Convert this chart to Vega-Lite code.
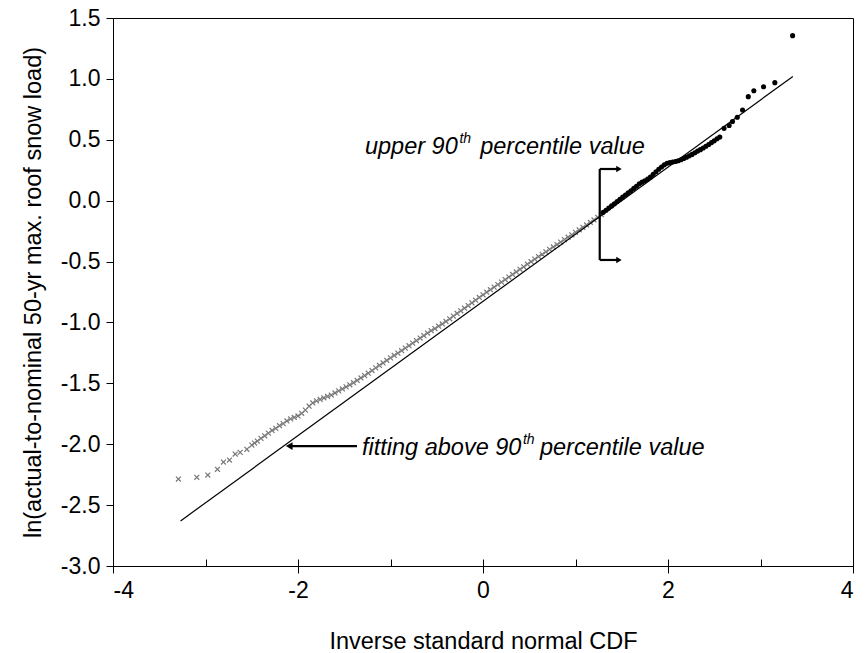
{
  "$schema": "https://vega.github.io/schema/vega-lite/v6.json",
  "width": 740,
  "height": 548,
  "autosize": "none",
  "padding": {"left": 113, "top": 18, "right": 15, "bottom": 87},
  "background": "white",
  "config": {
    "view": {"stroke": "black", "strokeWidth": 1},
    "font": "Liberation Sans",
    "axis": {
      "domainColor": "black",
      "tickColor": "black",
      "labelColor": "black",
      "titleColor": "black",
      "labelFont": "Liberation Sans",
      "titleFont": "Liberation Sans",
      "labelFontSize": 23,
      "titleFontSize": 23.5,
      "titleFontWeight": "normal"
    }
  },
  "datasets": {
    "grey": [
      {"q": -3.293, "v": -2.286}, {"q": -3.094, "v": -2.272}, {"q": -2.975, "v": -2.253}, {"q": -2.871, "v": -2.206},
      {"q": -2.806, "v": -2.146}, {"q": -2.741, "v": -2.130}, {"q": -2.679, "v": -2.081}, {"q": -2.625, "v": -2.067},
      {"q": -2.553, "v": -2.042}, {"q": -2.499, "v": -2.007}, {"q": -2.47, "v": -1.99},
      {"q": -2.44, "v": -1.974}, {"q": -2.40, "v": -1.952}, {"q": -2.36, "v": -1.931}, {"q": -2.32, "v": -1.909},
      {"q": -2.28, "v": -1.887}, {"q": -2.24, "v": -1.870}, {"q": -2.20, "v": -1.848}, {"q": -2.16, "v": -1.831},
      {"q": -2.12, "v": -1.809}, {"q": -2.08, "v": -1.792}, {"q": -2.04, "v": -1.780}, {"q": -2.00, "v": -1.768},
      {"q": -1.96, "v": -1.746}, {"q": -1.92, "v": -1.720}, {"q": -1.88, "v": -1.688}, {"q": -1.84, "v": -1.661},
      {"q": -1.80, "v": -1.644}, {"q": -1.76, "v": -1.632}, {"q": -1.72, "v": -1.620}, {"q": -1.68, "v": -1.608},
      {"q": -1.64, "v": -1.596}, {"q": -1.60, "v": -1.579}, {"q": -1.56, "v": -1.562}, {"q": -1.52, "v": -1.546},
      {"q": -1.48, "v": -1.529}, {"q": -1.44, "v": -1.512}, {"q": -1.40, "v": -1.495}, {"q": -1.36, "v": -1.476},
      {"q": -1.32, "v": -1.456}, {"q": -1.28, "v": -1.436}, {"q": -1.24, "v": -1.417}, {"q": -1.20, "v": -1.395},
      {"q": -1.16, "v": -1.373}, {"q": -1.12, "v": -1.353}, {"q": -1.08, "v": -1.333}, {"q": -1.04, "v": -1.312},
      {"q": -1.00, "v": -1.291}, {"q": -0.96, "v": -1.271}, {"q": -0.92, "v": -1.252}, {"q": -0.88, "v": -1.232},
      {"q": -0.84, "v": -1.211}, {"q": -0.80, "v": -1.191}, {"q": -0.76, "v": -1.170}, {"q": -0.72, "v": -1.149},
      {"q": -0.68, "v": -1.128}, {"q": -0.64, "v": -1.108}, {"q": -0.60, "v": -1.087}, {"q": -0.56, "v": -1.068},
      {"q": -0.52, "v": -1.050}, {"q": -0.48, "v": -1.031}, {"q": -0.44, "v": -1.012}, {"q": -0.40, "v": -0.992},
      {"q": -0.36, "v": -0.970}, {"q": -0.32, "v": -0.948}, {"q": -0.28, "v": -0.926}, {"q": -0.24, "v": -0.904},
      {"q": -0.20, "v": -0.883}, {"q": -0.16, "v": -0.861}, {"q": -0.12, "v": -0.839}, {"q": -0.08, "v": -0.817},
      {"q": -0.04, "v": -0.795}, {"q": 0.00, "v": -0.773}, {"q": 0.04, "v": -0.752}, {"q": 0.08, "v": -0.731},
      {"q": 0.12, "v": -0.710}, {"q": 0.16, "v": -0.689}, {"q": 0.20, "v": -0.669}, {"q": 0.24, "v": -0.648},
      {"q": 0.28, "v": -0.627}, {"q": 0.32, "v": -0.606}, {"q": 0.36, "v": -0.585}, {"q": 0.40, "v": -0.564},
      {"q": 0.44, "v": -0.543}, {"q": 0.48, "v": -0.522}, {"q": 0.52, "v": -0.501}, {"q": 0.56, "v": -0.480},
      {"q": 0.60, "v": -0.459}, {"q": 0.64, "v": -0.440}, {"q": 0.68, "v": -0.420}, {"q": 0.72, "v": -0.400},
      {"q": 0.76, "v": -0.380}, {"q": 0.80, "v": -0.360}, {"q": 0.84, "v": -0.340}, {"q": 0.88, "v": -0.320},
      {"q": 0.92, "v": -0.300}, {"q": 0.96, "v": -0.280}, {"q": 1.00, "v": -0.260}, {"q": 1.04, "v": -0.239},
      {"q": 1.08, "v": -0.219}, {"q": 1.12, "v": -0.199}, {"q": 1.16, "v": -0.178}, {"q": 1.20, "v": -0.158},
      {"q": 1.24, "v": -0.137}, {"q": 1.28, "v": -0.115}
    ],
    "black": [
      {"q": 1.30, "v": -0.096}, {"q": 1.33, "v": -0.079}, {"q": 1.36, "v": -0.061}, {"q": 1.39, "v": -0.043},
      {"q": 1.42, "v": -0.025}, {"q": 1.45, "v": -0.007}, {"q": 1.48, "v": 0.011}, {"q": 1.51, "v": 0.029},
      {"q": 1.54, "v": 0.046}, {"q": 1.57, "v": 0.064}, {"q": 1.60, "v": 0.082}, {"q": 1.63, "v": 0.101},
      {"q": 1.66, "v": 0.119}, {"q": 1.69, "v": 0.138}, {"q": 1.72, "v": 0.152}, {"q": 1.75, "v": 0.164},
      {"q": 1.78, "v": 0.177}, {"q": 1.81, "v": 0.193}, {"q": 1.84, "v": 0.216}, {"q": 1.87, "v": 0.238},
      {"q": 1.90, "v": 0.258}, {"q": 1.93, "v": 0.277}, {"q": 1.96, "v": 0.294}, {"q": 1.99, "v": 0.307},
      {"q": 2.02, "v": 0.314}, {"q": 2.05, "v": 0.318}, {"q": 2.08, "v": 0.322}, {"q": 2.11, "v": 0.328},
      {"q": 2.14, "v": 0.336}, {"q": 2.17, "v": 0.346}, {"q": 2.20, "v": 0.357}, {"q": 2.23, "v": 0.368},
      {"q": 2.26, "v": 0.380}, {"q": 2.29, "v": 0.393}, {"q": 2.32, "v": 0.407}, {"q": 2.35, "v": 0.419},
      {"q": 2.38, "v": 0.433}, {"q": 2.41, "v": 0.447}, {"q": 2.44, "v": 0.461}, {"q": 2.47, "v": 0.477},
      {"q": 2.50, "v": 0.491}, {"q": 2.53, "v": 0.508}, {"q": 2.56, "v": 0.522},
      {"q": 2.606, "v": 0.594}, {"q": 2.661, "v": 0.617}, {"q": 2.697, "v": 0.650}, {"q": 2.749, "v": 0.685},
      {"q": 2.806, "v": 0.745}, {"q": 2.868, "v": 0.854}, {"q": 2.928, "v": 0.903}, {"q": 3.033, "v": 0.936},
      {"q": 3.155, "v": 0.969}, {"q": 3.347, "v": 1.355}
    ]
  },
  "layer": [
    {
      "data": {"name": "grey"},
      "mark": {"type": "point", "shape": "M-1,-1L1,1M-1,1L1,-1", "filled": false, "stroke": "#777777", "strokeWidth": 1.2, "size": 24, "opacity": 1},
      "encoding": {
        "x": {
          "field": "q", "type": "quantitative",
          "scale": {"domain": [-4, 4], "nice": false, "zero": false},
          "axis": {
            "title": "Inverse standard normal CDF",
            "values": [-4, -3, -2, -1, 0, 1, 2, 3, 4],
            "labelExpr": "datum.value % 2 === 0 ? '' + datum.value : ''",
            "tickSize": {"condition": {"test": "datum.value % 2 === 0", "value": 7}, "value": 0},
            "labelPadding": 6,
            "titlePadding": 27,
            "grid": true,
            "gridColor": "black",
            "gridWidth": 1,
            "gridDash": [0, 541, 7, 0],
            "gridOpacity": 1
          }
        },
        "y": {
          "field": "v", "type": "quantitative",
          "scale": {"domain": [-3, 1.5], "nice": false, "zero": false},
          "axis": {
            "title": "ln(actual-to-nominal 50-yr max. roof snow load)",
            "values": [-3, -2.5, -2, -1.5, -1, -0.5, 0, 0.5, 1, 1.5],
            "labelExpr": "replace(format(datum.value, '.1f'), '\u2212', '-')",
            "tickSize": 7,
            "labelPadding": 6,
            "titlePadding": 15,
            "grid": false
          }
        }
      }
    },
    {
      "data": {"name": "black"},
      "mark": {"type": "circle", "color": "black", "size": 26, "opacity": 1},
      "encoding": {
        "x": {"field": "q", "type": "quantitative"},
        "y": {"field": "v", "type": "quantitative"}
      }
    },
    {
      "data": {"values": [{"q": -3.27, "v": -2.63}, {"q": 3.35, "v": 1.02}]},
      "mark": {"type": "line", "color": "black", "strokeWidth": 1.2},
      "encoding": {
        "x": {"field": "q", "type": "quantitative"},
        "y": {"field": "v", "type": "quantitative"}
      }
    },
    {
      "data": {"values": [
        {"q": 1.262, "q2": 1.262, "v": -0.487, "v2": 0.26},
        {"q": 1.262, "q2": 1.46, "v": 0.26, "v2": 0.26},
        {"q": 1.262, "q2": 1.46, "v": -0.487, "v2": -0.487},
        {"q": -2.09, "q2": -1.362, "v": -2.015, "v2": -2.015}
      ]},
      "mark": {"type": "rule", "color": "black", "strokeWidth": 2.2},
      "encoding": {
        "x": {"field": "q", "type": "quantitative"},
        "x2": {"field": "q2"},
        "y": {"field": "v", "type": "quantitative"},
        "y2": {"field": "v2"}
      }
    },
    {
      "data": {"values": [{"q": 1.47, "v": 0.26}, {"q": 1.47, "v": -0.487}]},
      "mark": {"type": "point", "shape": "triangle-right", "filled": true, "color": "black", "size": 40, "opacity": 1},
      "encoding": {
        "x": {"field": "q", "type": "quantitative"},
        "y": {"field": "v", "type": "quantitative"}
      }
    },
    {
      "data": {"values": [{"q": -2.095, "v": -2.015}]},
      "mark": {"type": "point", "shape": "triangle-left", "filled": true, "color": "black", "size": 60, "opacity": 1},
      "encoding": {
        "x": {"field": "q", "type": "quantitative"},
        "y": {"field": "v", "type": "quantitative"}
      }
    },
    {
      "data": {"values": [
        {"q": -1.276, "v": 0.441, "t": "upper 90"},
        {"q": -0.03, "v": 0.441, "t": "percentile value"},
        {"q": -1.308, "v": -2.03, "t": "fitting above 90"},
        {"q": 0.616, "v": -2.03, "t": "percentile value"}
      ]},
      "mark": {"type": "text", "align": "left", "baseline": "middle", "fontStyle": "italic", "fontSize": 23.5, "font": "Liberation Sans", "color": "black"},
      "encoding": {
        "x": {"field": "q", "type": "quantitative"},
        "y": {"field": "v", "type": "quantitative"},
        "text": {"field": "t"}
      }
    },
    {
      "data": {"values": [
        {"q": -0.255, "v": 0.506, "t": "th"},
        {"q": 0.432, "v": -1.965, "t": "th"}
      ]},
      "mark": {"type": "text", "align": "left", "baseline": "middle", "fontStyle": "italic", "fontSize": 14, "font": "Liberation Sans", "color": "black"},
      "encoding": {
        "x": {"field": "q", "type": "quantitative"},
        "y": {"field": "v", "type": "quantitative"},
        "text": {"field": "t"}
      }
    }
  ]
}
